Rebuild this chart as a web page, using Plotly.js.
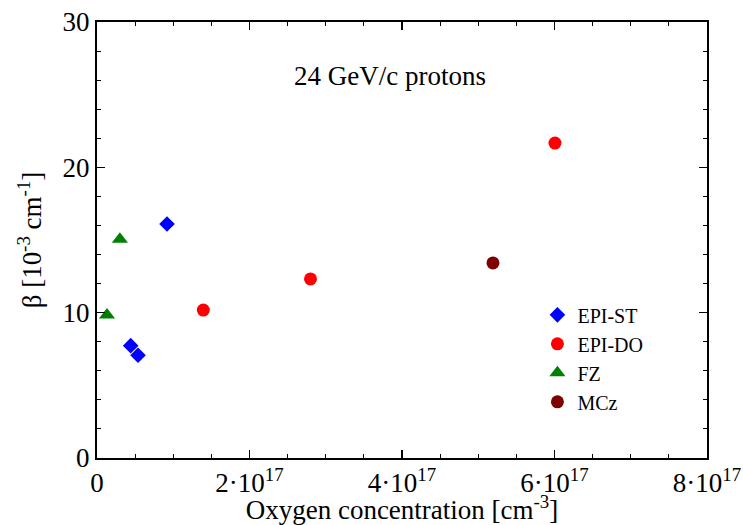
<!DOCTYPE html>
<html>
<head>
<meta charset="utf-8">
<script src="https://cdn.plot.ly/plotly-3.0.1.min.js"></script>
<style>html,body{margin:0;padding:0;background:#fff;}#chart{width:743px;height:525px;}</style>
</head>
<body>
<div id="chart"></div>
<script>
// Data
const epiStX = [0.918e17, 0.442e17, 0.538e17];
const epiStY = [16.1, 7.73, 7.07];
const epiDoX = [1.394e17, 2.80e17, 6.006e17];
const epiDoY = [10.18, 12.32, 21.67];
const fzX = [0.30e17, 0.131e17];
const fzY = [15.05, 9.84];
const mczX = [5.193e17];
const mczY = [13.42];

const xTickVals = [0, 2e17, 4e17, 6e17, 8e17];
const xTickText = ["0", "2·10<sup>17</sup>", "4·10<sup>17</sup>", "6·10<sup>17</sup>", "8·10<sup>17</sup>"];
const yTickVals = [0, 10, 20, 30];

const FONT = "'Liberation Serif', 'Times New Roman', Times, serif";

const traces = [
  {x: epiStX, y: epiStY, name: "EPI-ST", mode: "markers", type: "scatter", legendgroup: "a",
   marker: {symbol: "diamond", size: 12, color: "#0000ff"}},
  {x: epiDoX, y: epiDoY, name: "EPI-DO", mode: "markers", type: "scatter", legendgroup: "b",
   marker: {symbol: "circle", size: 13, color: "#ff0000"}},
  {x: fzX, y: fzY, name: "FZ", mode: "markers", type: "scatter", legendgroup: "c",
   marker: {symbol: "triangle-up", size: 14, color: "#008000"}},
  {x: mczX, y: mczY, name: "MCz", mode: "markers", type: "scatter", legendgroup: "d",
   marker: {symbol: "circle", size: 13, color: "#7f0000"}}
];

const axisCommon = {
  showgrid: false, zeroline: false, showline: true, linecolor: "#000", linewidth: 2,
  mirror: "allticks", ticks: "inside", ticklen: 8, tickwidth: 1.2, tickcolor: "#000",
  tickfont: {family: FONT, size: 27, color: "#000"}
};

const layout = {
  width: 743, height: 525,
  margin: {l: 97, r: 36, t: 22, b: 67},
  paper_bgcolor: "#fff", plot_bgcolor: "#fff",
  font: {family: FONT, color: "#000"},
  showlegend: true,
  legend: {x: 0.722, y: 0.373, xanchor: "left", yanchor: "top",
    font: {family: FONT, size: 20, color: "#000"}, tracegroupgap: 0,
    bgcolor: "rgba(0,0,0,0)"},
  xaxis: Object.assign({}, axisCommon, {
    range: [0, 8e17], tickmode: "array", tickvals: xTickVals, ticktext: xTickText,
    minor: {tick0: 0, dtick: 0.5e17, ticks: "inside", ticklen: 4, tickwidth: 1, tickcolor: "#000"},
    title: {text: "Oxygen concentration [cm<sup>-3</sup>]", font: {family: FONT, size: 27, color: "#000"}, standoff: 5}
  }),
  yaxis: Object.assign({}, axisCommon, {
    range: [0, 30], tickmode: "array", tickvals: yTickVals,
    minor: {tick0: 0, dtick: 2, ticks: "inside", ticklen: 4, tickwidth: 1, tickcolor: "#000"},
    title: {text: "β [10<sup>-3</sup> cm<sup>-1</sup>]", font: {family: FONT, size: 27, color: "#000"}, standoff: 13}
  }),
  annotations: [{
    text: "24 GeV/c protons", xref: "paper", yref: "paper", x: 0.48, y: 0.876,
    xanchor: "center", yanchor: "middle",
    showarrow: false, font: {family: FONT, size: 27, color: "#000"}
  }]
};

Plotly.newPlot("chart", traces, layout, {displayModeBar: false, staticPlot: true});
</script>
</body>
</html>
